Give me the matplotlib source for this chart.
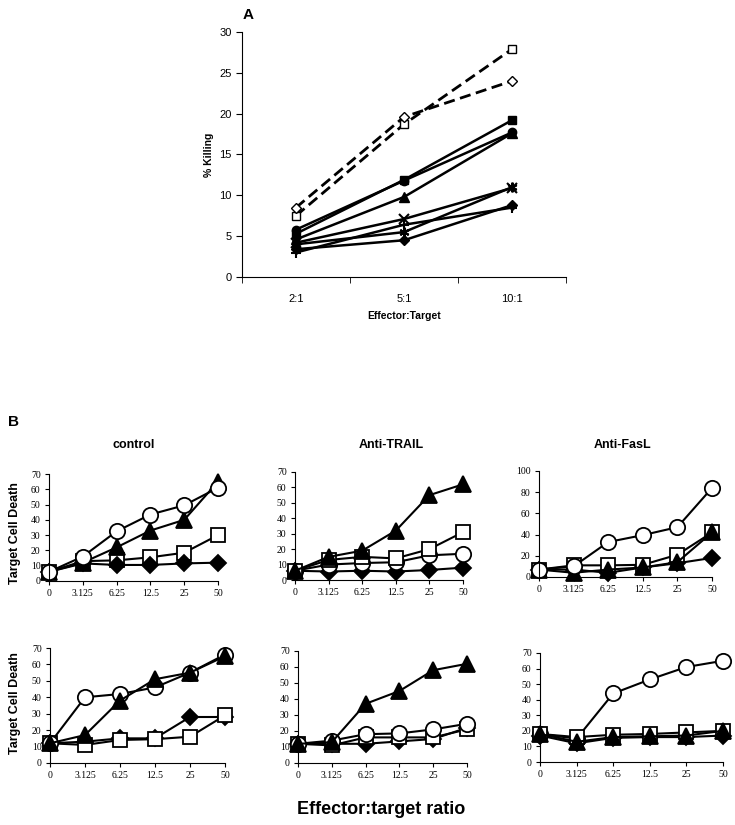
import numpy as np
import matplotlib.pyplot as plt

W, H = 735, 825
plt.rcParams['font.family'] = 'Liberation Sans'

# ---- panel A data ----
a_cats = ["2:1", "5:1", "10:1"]
a_open_sq = [7.5, 18.7, 27.9]
a_open_dia = [8.5, 19.6, 24.0]
a_fill_sq = [5.3, 11.9, 19.2]
a_fill_circ = [5.8, 11.8, 17.7]
a_fill_tri = [4.6, 9.8, 17.6]
a_cross = [4.2, 7.1, 10.9]
a_star = [4.0, 5.5, 11.0]
a_fill_dia = [3.4, 4.5, 8.8]
a_plus = [3.0, 6.4, 8.5]

# ---- panel B data ----
b_cats = ["0", "3.125", "6.25", "12.5", "25", "50"]
# top row
ctl1_circ = [6, 16, 32.5, 43.5, 49.5, 61]
ctl1_tri = [6, 12, 22, 33, 40, 65]
ctl1_sq = [6, 13, 13.5, 15.5, 18.5, 30]
ctl1_dia = [6, 11.5, 10.5, 10.5, 11.5, 12]
trail1_tri = [6, 15, 19, 32, 55, 62]
trail1_sq = [6, 13, 15, 14, 20, 31]
trail1_circ = [6, 10, 11, 11.5, 16, 17]
trail1_dia = [6, 5.5, 6, 5.5, 6.5, 8]
fasl1_circ = [7, 10, 33, 39.5, 47, 84]
fasl1_sq = [7, 11, 11, 11.5, 21, 42]
fasl1_tri = [7, 4, 7, 9, 14, 42]
fasl1_dia = [7, 7, 4, 9, 13, 18]
# bottom row
ctl2_circ = [12, 40, 42, 46, 55, 66]
ctl2_tri = [12, 17, 38, 51, 55, 65]
ctl2_dia = [12, 13, 15, 15, 28, 28]
ctl2_sq = [12, 11, 14, 14.5, 16, 29]
trail2_tri = [12, 13, 37, 45, 58, 62]
trail2_circ = [12, 14, 18, 18.5, 21, 24.5]
trail2_sq = [12, 11, 16, 16, 16, 21]
trail2_dia = [12, 12, 12, 13.5, 15, 22]
fasl2_circ = [18, 15, 44, 53, 61, 65]
fasl2_sq = [18, 16, 17.5, 18, 19, 20]
fasl2_tri = [18, 13, 16, 16.5, 17, 20]
fasl2_dia = [17, 12, 15.5, 16, 16, 17]


def px_axes(fig, x0, x1, y0, y1):
    return fig.add_axes([x0 / W, 1 - y1 / H, (x1 - x0) / W, (y1 - y0) / H])


fig = plt.figure(figsize=(W / 100, H / 100), dpi=100)

# ---------------- panel A ----------------
ax = px_axes(fig, 242, 566, 32, 277)
xa = np.arange(len(a_cats))
ms = 6
ax.plot(xa, a_open_sq, ls=(0, (4, 2)), color='k', lw=2, marker='s', ms=ms, mfc='white', mec='k')
ax.plot(xa, a_open_dia, ls=(0, (4, 2)), color='k', lw=2, marker='D', ms=ms - 1, mfc='white', mec='k')
ax.plot(xa, a_fill_sq, color='k', lw=1.8, marker='s', ms=ms)
ax.plot(xa, a_fill_circ, color='k', lw=1.8, marker='o', ms=ms)
ax.plot(xa, a_fill_tri, color='k', lw=1.8, marker='^', ms=ms + 0.5)
ax.plot(xa, a_cross, color='k', lw=1.8, marker='x', ms=ms + 1, mew=1.5)
ax.plot(xa, a_star, color='k', lw=1.8, marker=(6, 2, 0), ms=ms + 1, mew=1.5)
ax.plot(xa, a_fill_dia, color='k', lw=1.8, marker='D', ms=ms - 1)
ax.plot(xa, a_plus, color='k', lw=1.8, marker='+', ms=ms + 1, mew=1.5)
ax.set_xlim(-0.5, 2.5)
ax.set_ylim(0, 30)
ax.set_yticks(range(0, 31, 5))
ax.set_xticks(xa)
ax.set_xticklabels(a_cats)
ax.set_xticks([-0.5, 0.5, 1.5, 2.5], minor=True)
ax.tick_params(axis='x', which='major', length=0, pad=12, labelsize=8)
ax.tick_params(axis='x', which='minor', length=4, direction='out')
ax.tick_params(axis='y', length=4, direction='out', labelsize=8)
for s in ['top', 'right']:
    ax.spines[s].set_visible(False)
ax.set_ylabel("% Killing", fontsize=7.5, fontweight='bold', labelpad=4)
ax.set_xlabel("Effector:Target", fontsize=7.5, fontweight='bold', labelpad=5)
fig.text(243 / W, 1 - 15 / H, "A", fontsize=11, fontweight='bold', va='center')

# ---------------- panel B ----------------
xb = np.arange(len(b_cats))


def panel_b(box, series, ymax, ystep):
    axb = px_axes(fig, *box)
    for vals, mk, filled in series:
        size = {'o': 11, '^': 11, 's': 10, 'D': 8}[mk]
        axb.plot(xb, vals, color='k', lw=1.5, marker=mk, ms=size,
                 mfc='k' if filled else 'white', mec='k', mew=1.3)
    axb.set_xlim(0, 5)
    axb.set_ylim(0, ymax)
    axb.set_yticks(np.arange(0, ymax + 1, ystep))
    axb.set_xticks(xb)
    axb.set_xticklabels(b_cats)
    axb.tick_params(length=3, direction='out', labelsize=7, pad=3)
    for lab in axb.get_xticklabels() + axb.get_yticklabels():
        lab.set_fontfamily('Liberation Serif')
    for s in ['top', 'right']:
        axb.spines[s].set_visible(False)
    for ln in axb.lines:
        ln.set_clip_on(False)
    return axb


panel_b((49, 218, 474, 581),
        [(ctl1_sq, 's', False), (ctl1_dia, 'D', True), (ctl1_tri, '^', True), (ctl1_circ, 'o', False)], 70, 10)
panel_b((295, 463, 472, 580),
        [(trail1_dia, 'D', True), (trail1_circ, 'o', False), (trail1_sq, 's', False), (trail1_tri, '^', True)], 70, 10)
panel_b((539, 712, 471, 577),
        [(fasl1_dia, 'D', True), (fasl1_sq, 's', False), (fasl1_tri, '^', True), (fasl1_circ, 'o', False)], 100, 20)
panel_b((50, 225, 648, 763),
        [(ctl2_dia, 'D', True), (ctl2_sq, 's', False), (ctl2_circ, 'o', False), (ctl2_tri, '^', True)], 70, 10)
panel_b((298, 467, 651, 763),
        [(trail2_dia, 'D', True), (trail2_sq, 's', False), (trail2_circ, 'o', False), (trail2_tri, '^', True)], 70, 10)
panel_b((540, 723, 653, 762),
        [(fasl2_dia, 'D', True), (fasl2_circ, 'o', False), (fasl2_sq, 's', False), (fasl2_tri, '^', True)], 70, 10)

fig.text(8 / W, 1 - 422 / H, "B", fontsize=11, fontweight='bold', va='center')
for x, t in [(134, "control"), (391, "Anti-TRAIL"), (622, "Anti-FasL")]:
    fig.text(x / W, 1 - 445 / H, t, fontsize=9, fontweight='bold', ha='center', va='center')
for y in [533, 703]:
    fig.text(15 / W, 1 - y / H, "Target Cell Death", fontsize=9, fontweight='bold',
             rotation=90, ha='center', va='center')
fig.text(381 / W, 1 - 810 / H, "Effector:target ratio", fontsize=13, fontweight='bold',
         ha='center', va='center')

fig.savefig("out.png", dpi=100)
